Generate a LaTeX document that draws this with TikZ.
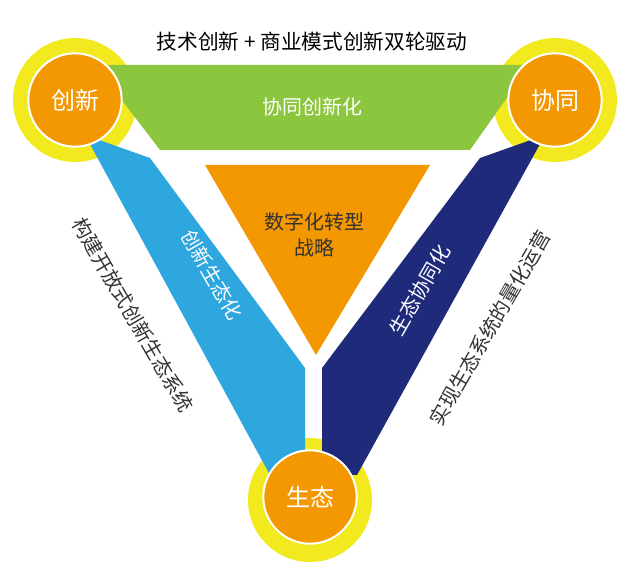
\documentclass[tikz,border=0pt]{standalone}
\usepackage{fontspec}
\setmainfont{Noto Sans CJK SC}
\definecolor{yl}{HTML}{F2EA1E}
\definecolor{gr}{HTML}{8CC63F}
\definecolor{lb}{HTML}{2EA6DE}
\definecolor{db}{HTML}{1F2B7A}
\definecolor{og}{HTML}{F39800}
\begin{document}
\begin{tikzpicture}[x=0.75pt,y=-0.75pt,
  yel/.style={fill=yl},
  org/.style={fill=og, draw=white, line width=1.5pt},
  ctxt/.style={text=white,font=\fontsize{18}{18}\selectfont},
  btxt/.style={text=white,font=\fontsize{15}{17}\selectfont},
  otxt/.style={text=black!80,font=\fontsize{15}{19}\selectfont}]
\useasboundingbox (0,0) rectangle (629,570);
\fill[white] (0,0) rectangle (629,570);
\fill[yel] (75,100) circle (62);
\fill[yel] (555,100) circle (62);
\fill[yel] (310,500) circle (62);
\fill[gr] (95,65) -- (530,65) -- (470,150) -- (160,150) -- cycle;
\fill[lb] (85,135) -- (150,158) -- (305,368) -- (305,475) -- (270,475) -- cycle;
\fill[db] (545,135) -- (480,158) -- (322,368) -- (322,475) -- (357,475) -- cycle;
\fill[og] (205,165) -- (430,165) -- (316,355) -- cycle;
\node[org,circle,minimum size=70] (c1) at (75,100) {};
\node[org,circle,minimum size=70] (c2) at (555,100) {};
\node[org,circle,minimum size=70] (c3) at (310,497) {};
\node[ctxt] at (c1) {创新};
\node[ctxt] at (c2) {协同};
\node[ctxt] at (c3) {生态};
\node[font=\fontsize{15.5}{17}\selectfont] (t) at (312,42) {技术创新 + 商业模式创新双轮驱动};
\node[btxt] (g) at (312,107) {协同创新化};
\node[otxt,align=center] (o) at (314,235) {数字化转型\\战略};
\node[btxt,rotate=-60] (lb) at (212,275) {创新生态化};
\node[btxt,rotate=60] (db) at (420,290) {生态协同化};
\node[otxt,rotate=-60] (lt) at (133,315) {构建开放式创新生态系统};
\node[otxt,rotate=60] (rt) at (490,328) {实现生态系统的量化运营};
\end{tikzpicture}
\end{document}
